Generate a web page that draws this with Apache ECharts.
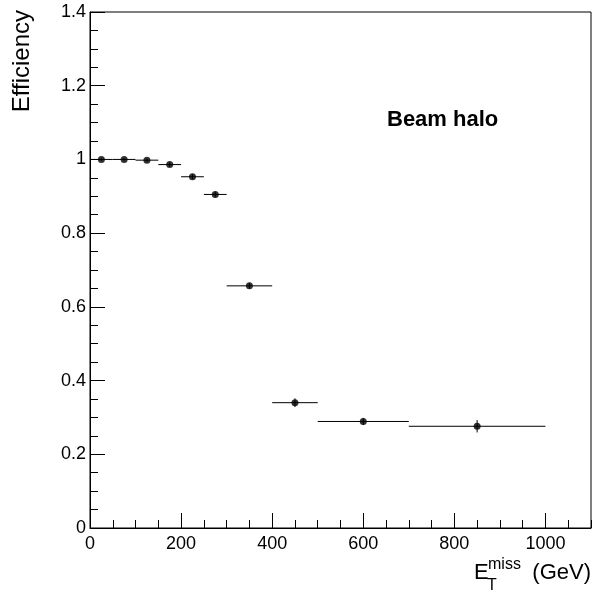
<!DOCTYPE html>
<html>
<head>
<meta charset="utf-8">
<script src="https://cdn.jsdelivr.net/npm/echarts@6/dist/echarts.min.js"></script>
<style>
  html, body { margin: 0; padding: 0; background: #fff; }
  #J-eff { width: 594px; height: 592px; }
</style>
</head>
<body>
<div id="J-eff"></div>
<script>
// bins in MET (GeV)
const binLow    = [0, 50, 100, 150, 200, 250, 300, 400, 500, 700];
const binHigh   = [50, 100, 150, 200, 250, 300, 400, 500, 700, 1000];
const binCenter = [25, 75, 125, 175, 225, 275, 350, 450, 600, 850];
// efficiency and asymmetric errors
const eff    = [1.0, 1.0, 0.998, 0.986, 0.953, 0.905, 0.657, 0.340, 0.289, 0.276];
const errLow = [0.001, 0.001, 0.002, 0.003, 0.004, 0.005, 0.005, 0.009, 0.007, 0.014];
const errUp  = [0.000, 0.000, 0.001, 0.003, 0.004, 0.005, 0.005, 0.009, 0.007, 0.014];

const FONT = 'Liberation Sans, Arial, Helvetica, sans-serif';

const barData = binCenter.map((x, i) => [x, eff[i], binLow[i], binHigh[i], errLow[i], errUp[i]]);
const pointData = binCenter.map((x, i) => [x, eff[i]]);

function renderErr(params, api) {
    const x = api.value(0), y = api.value(1);
    const l = api.coord([api.value(2), y]);
    const r = api.coord([api.value(3), y]);
    const b = api.coord([x, y - api.value(4)]);
    const t = api.coord([x, y + api.value(5)]);
    const st = { stroke: '#000', lineWidth: 1 };
    return {
        type: 'group',
        children: [
            { type: 'line', shape: { x1: l[0], y1: l[1], x2: r[0], y2: r[1] }, style: st },
            { type: 'line', shape: { x1: t[0], y1: t[1] - 1, x2: b[0], y2: b[1] + 1 }, style: st }
        ]
    };
}

const option = {
    animation: false,
    grid: {
        left: 90, right: 3, top: 12, bottom: 64,
        show: true, borderColor: '#000', borderWidth: 1
    },
    xAxis: [
        {
            type: 'value', position: 'bottom',
            min: 0, max: 1100, interval: 200,
            axisLine: { show: true, onZero: false, lineStyle: { color: '#000', width: 1 } },
            axisTick: { show: true, inside: true, length: 15, lineStyle: { color: '#000' } },
            axisLabel: { color: '#000', fontSize: 18, fontFamily: FONT, margin: 7, showMaxLabel: false,
                formatter: v => String(v) },
            splitLine: { show: false }
        },
        {
            type: 'value', position: 'bottom', offset: 0,
            min: 0, max: 1100, interval: 50,
            axisLine: { show: false },
            axisTick: { show: true, inside: true, length: 8, lineStyle: { color: '#000' } },
            axisLabel: { show: false },
            splitLine: { show: false }
        }
    ],
    yAxis: {
        type: 'value',
        min: 0, max: 1.4, interval: 0.2,
        axisLine: { show: true, lineStyle: { color: '#000', width: 1 } },
        axisTick: { show: true, inside: true, length: 15, lineStyle: { color: '#000' } },
        minorTick: { show: true, splitNumber: 4, length: 8, lineStyle: { color: '#000' } },
        axisLabel: { color: '#000', fontSize: 18, fontFamily: FONT, margin: 4,
            formatter: v => String(Math.round(v * 10) / 10) },
        splitLine: { show: false }
    },
    graphic: [
        { type: 'text', x: 10, y: 10, rotation: Math.PI / 2,
          style: { text: 'Efficiency', font: '24px ' + FONT, fill: '#000', textAlign: 'right', textVerticalAlign: 'top' } },
        { type: 'text', x: 387, y: 120,
          style: { text: 'Beam halo', font: 'bold 22px ' + FONT, fill: '#000', textAlign: 'left', textVerticalAlign: 'middle' } },
        { type: 'text', x: 474, y: 573,
          style: { text: 'E', font: '22px ' + FONT, fill: '#000', textAlign: 'left', textVerticalAlign: 'middle' } },
        { type: 'text', x: 487, y: 586,
          style: { text: 'T', font: '16px ' + FONT, fill: '#000', textAlign: 'left', textVerticalAlign: 'middle' } },
        { type: 'text', x: 488, y: 565,
          style: { text: 'miss', font: '16px ' + FONT, fill: '#000', textAlign: 'left', textVerticalAlign: 'middle' } },
        { type: 'text', x: 591, y: 573,
          style: { text: '(GeV)', font: '22px ' + FONT, fill: '#000', textAlign: 'right', textVerticalAlign: 'middle' } }
    ],
    series: [
        {
            type: 'custom',
            xAxisIndex: 0,
            renderItem: renderErr,
            encode: { x: 0, y: 1 },
            data: barData,
            silent: true,
            z: 2
        },
        {
            type: 'scatter',
            xAxisIndex: 0,
            data: pointData,
            symbol: 'circle',
            symbolSize: 7,
            itemStyle: { color: '#000' },
            silent: true,
            z: 3
        }
    ]
};

const chart = echarts.init(document.getElementById('J-eff'));
chart.setOption(option);
</script>
</body>
</html>
